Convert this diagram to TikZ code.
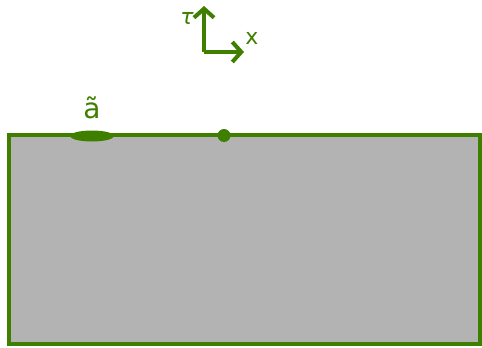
\documentclass[tikz,border=0pt]{standalone}
\usepackage{fontspec}
\setsansfont{DejaVu Sans}
\usetikzlibrary{arrows.meta,shapes.geometric}
\definecolor{sheetgreen}{HTML}{3F7F00}
\definecolor{sheetgray}{HTML}{B3B3B3}

\begin{document}
\begin{tikzpicture}[
  x=1pt, y=-1pt,
  font=\sffamily,
  axis/.style={line width=4pt, draw=sheetgreen,
    -{Straight Barb[length=9pt, width=20pt, line width=4pt]}},
  axislabel/.style={text=sheetgreen, font=\sffamily\fontsize{22}{24}\selectfont, inner sep=0pt},
  insertion/.style={ellipse, fill=sheetgreen, inner sep=0pt,
    minimum width=44pt, minimum height=11pt},
  marker/.style={circle, fill=sheetgreen, inner sep=0pt, minimum size=13pt}
]
  \useasboundingbox (0,0) rectangle (482,348);

  % world sheet
  \draw[sheetgreen, fill=sheetgray, line width=3.5pt] (9,135) rectangle (480,344);

  % axes
  \coordinate (origin) at (204,52);
  \coordinate (tauend) at (204,6);
  \coordinate (xend) at (244,52);
  \draw[axis] (origin) -- (tauend);
  \draw[axis] (origin) -- (xend);
  \node[axislabel] (taulabel) at (187,18) {\itshape τ};
  \node[axislabel] (xlabel) at (252,38) {x};

  % boundary insertions
  \node[insertion] (slab) at (92,136) {};
  \node[marker] (dot) at (224,135.5) {};
  \node[axislabel, font=\sffamily\fontsize{28}{30}\selectfont] (atilde) at (92,108) {ã};
\end{tikzpicture}
\end{document}
